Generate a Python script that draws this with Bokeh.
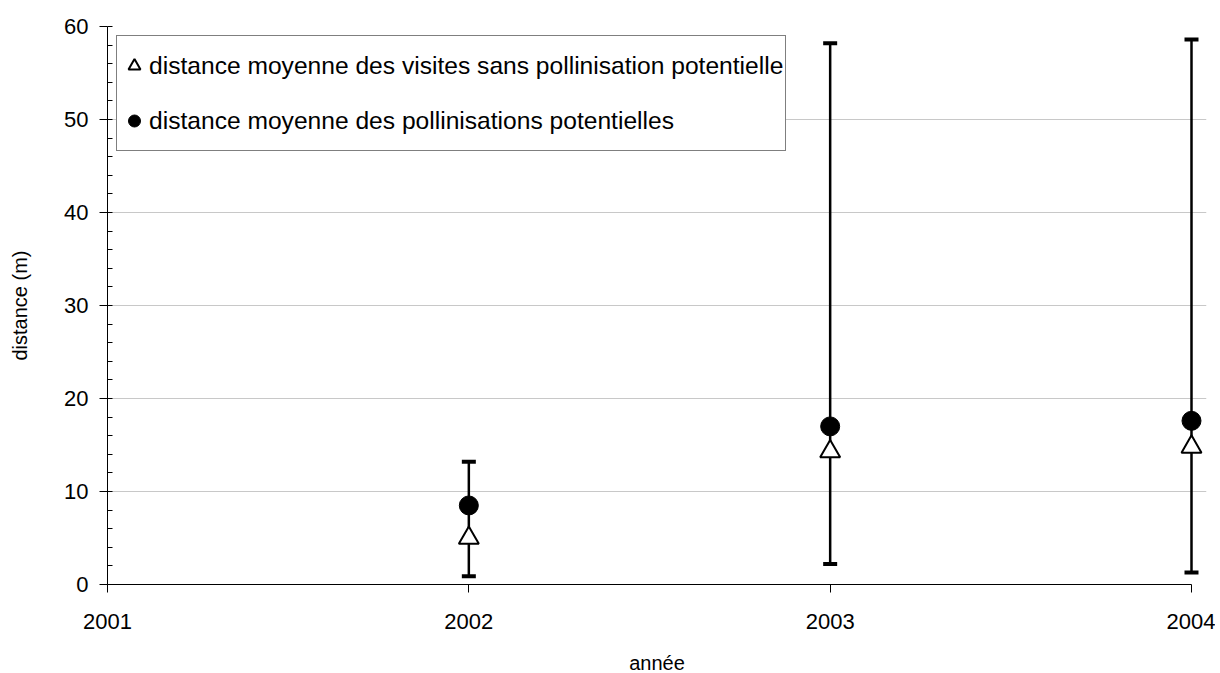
from bokeh.plotting import figure
from bokeh.models import (ColumnDataSource, Legend, LegendItem, Whisker, FixedTicker,
                          Range1d)
from bokeh.embed import file_html
from bokeh.resources import INLINE

# Data
years = [2002, 2003, 2004]
mean_visits_no_pollination = [5.0, 14.3, 14.8]   # triangles
mean_pollination = [8.5, 17.0, 17.6]             # filled circles
err_upper = [13.2, 58.2, 58.6]
err_lower = [0.9, 2.2, 1.3]
x_ticks = [2001, 2002, 2003, 2004]
y_ticks = [0, 10, 20, 30, 40, 50, 60]
legend_labels = ["distance moyenne des visites sans pollinisation potentielle",
                 "distance moyenne des pollinisations potentielles"]

FONT = "Liberation Sans"

# frame: 2001 -> x=107, 2004 -> x=1191 (361.3 px per year); a little extra room right
x_end = 2004 + 15 / 361.3

p = figure(output_backend="svg", toolbar_location=None,
           frame_width=1099, frame_height=558,
           min_border_left=107, min_border_right=9,
           min_border_top=26, min_border_bottom=81,
           x_range=Range1d(2001, x_end), y_range=Range1d(0, 60))
p.outline_line_color = None
p.background_fill_color = "white"
p.border_fill_color = "white"

# grid
p.xgrid.grid_line_color = None
p.ygrid.grid_line_color = "#c8c8c8"
p.ygrid.grid_line_width = 1

# axes
p.xaxis.ticker = FixedTicker(ticks=x_ticks)
p.xaxis.bounds = (2001, 2004)
p.yaxis.ticker = FixedTicker(ticks=y_ticks, minor_ticks=list(range(0, 61, 2)))
for ax in (p.xaxis[0], p.yaxis[0]):
    ax.axis_line_color = "black"
    ax.axis_line_width = 1
    ax.major_tick_line_color = "black"
    ax.major_tick_out = 8
    ax.major_tick_in = 0
    ax.major_label_text_font = FONT
    ax.major_label_text_font_size = "22px"
    ax.major_label_text_color = "black"
    ax.axis_label_text_font = FONT
    ax.axis_label_text_font_size = "20px"
    ax.axis_label_text_font_style = "normal"
    ax.axis_label_text_color = "black"

p.xaxis.minor_tick_line_color = None
p.yaxis.minor_tick_line_color = "black"
p.yaxis.minor_tick_in = 5
p.yaxis.minor_tick_out = 0
p.xaxis.axis_label = "année"
p.yaxis.axis_label = "distance (m)"
p.yaxis.major_label_standoff = 11
p.yaxis.axis_label_standoff = 30
p.xaxis.major_label_standoff = 21
p.xaxis.axis_label_standoff = 20
p.xaxis.formatter.use_scientific = False

src = ColumnDataSource(dict(x=years, tri=mean_visits_no_pollination,
                            circ=mean_pollination,
                            up=err_upper, lo=err_lower))

wh = Whisker(source=src, base="x", upper="up", lower="lo",
             line_color="black", line_width=2.5)
wh.upper_head.size = 14
wh.lower_head.size = 14
wh.upper_head.line_width = 4
wh.lower_head.line_width = 4
wh.upper_head.line_color = "black"
wh.lower_head.line_color = "black"
p.add_layout(wh)

r_tri = p.scatter("x", "tri", source=src, marker="triangle", size=20,
                  fill_color="white", line_color="black", line_width=2)
r_circ = p.scatter("x", "circ", source=src, marker="circle", size=19,
                   fill_color="black", line_color="black")

legend = Legend(items=[LegendItem(label=legend_labels[0], renderers=[r_tri]),
                       LegendItem(label=legend_labels[1], renderers=[r_circ])],
                location="top_left")
legend.padding = 2
legend.margin = 9
legend.spacing = 0
legend.glyph_width = 30
legend.glyph_height = 55
legend.label_height = 55
legend.label_standoff = 0
legend.label_text_font = FONT
legend.label_text_font_size = "24.6px"
legend.label_text_color = "black"
legend.border_line_color = "black"
legend.border_line_width = 1
legend.background_fill_alpha = 1
p.add_layout(legend, "center")

open("out.html", "w").write(file_html(p, INLINE))
